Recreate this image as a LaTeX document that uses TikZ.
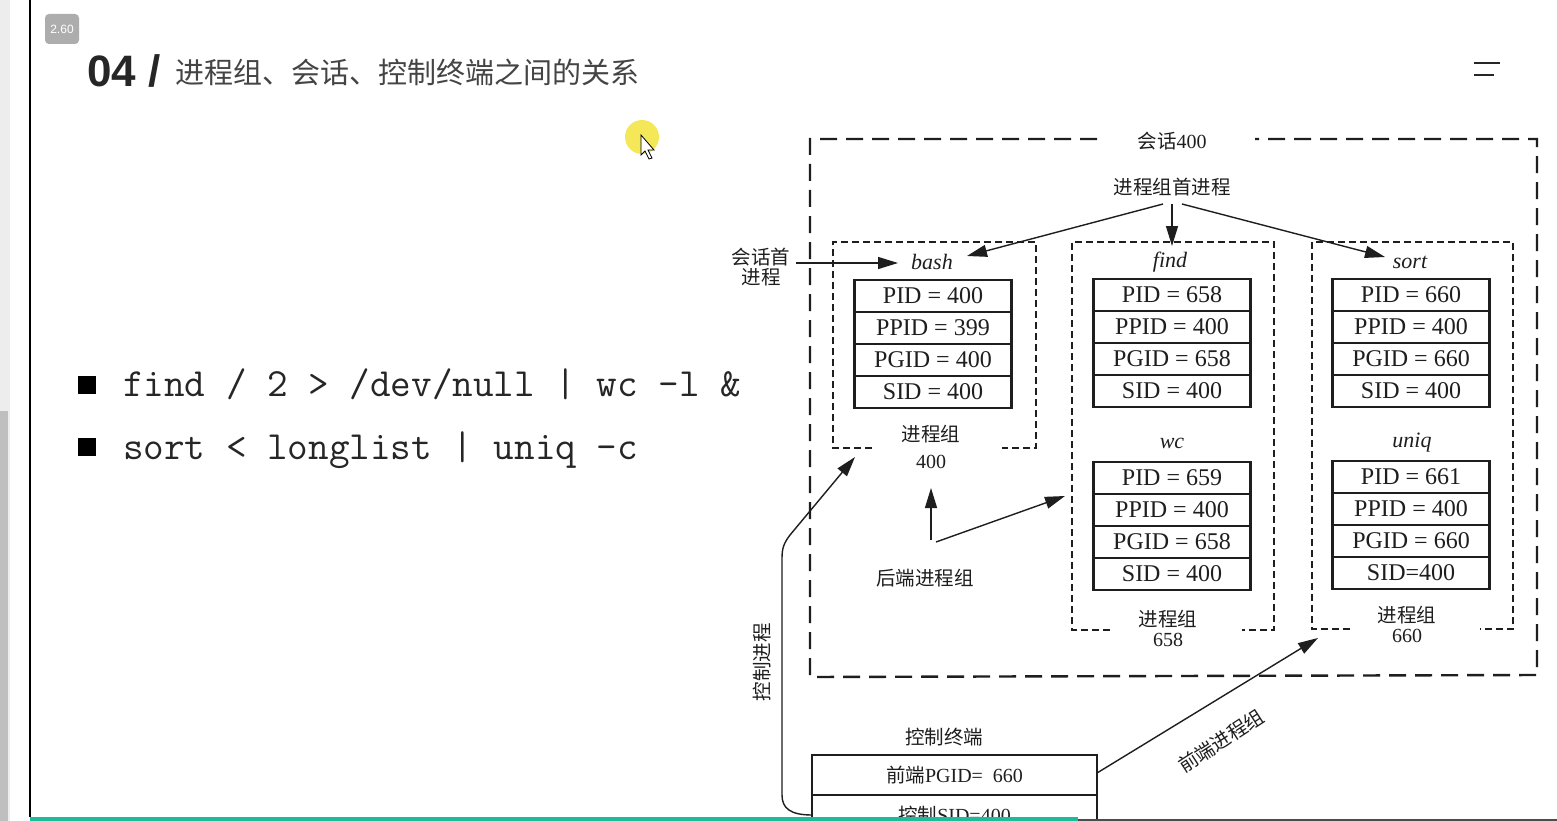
\documentclass[tikz,border=0pt]{standalone}
\usepackage{fontspec}
\setmainfont{Liberation Serif}
\newfontfamily\cjk{Noto Sans CJK SC}
\newfontfamily\hsans{Liberation Sans}
\usetikzlibrary{arrows.meta}
\newcommand\myfs[1]{\fontsize{#1}{#1}\selectfont}
\definecolor{inkc}{HTML}{1E1E1E}
\definecolor{titlec}{HTML}{444444}
\definecolor{tealbar}{HTML}{1ABC9C}
\definecolor{cursory}{HTML}{F4E646}
\newcommand\proctable[7]{%
  \node[cell] (#1a) at (#2,#3+16) {#4};
  \node[cell] (#1b) at (#2,#3+48) {#5};
  \node[cell] (#1c) at (#2,#3+80) {#6};
  \node[cell] (#1d) at (#2,#3+112) {#7};
  \draw[tbl] (#1a.north west) rectangle (#1d.south east);
}
\begin{document}
\begin{tikzpicture}[x=1pt,y=-1pt,
  every node/.style={inner sep=0pt, outer sep=0pt, text=inkc},
  lab/.style={font=\cjk\myfs{19.5}},
  num/.style={font=\myfs{20}},
  proc/.style={font=\itshape\myfs{22}},
  cell/.style={draw=inkc, line width=1.3pt, minimum width=157pt, minimum height=32pt, font=\myfs{24}},
  outerbox/.style={draw=inkc, line width=2.4pt, dash pattern=on 17pt off 9pt},
  grpbox/.style={draw=inkc, line width=2pt, dash pattern=on 7pt off 4pt},
  arr/.style={draw=inkc, line width=1.4pt, -{Triangle[length=20pt,width=12pt]}},
  tbl/.style={draw=inkc, line width=2.4pt},
  bullet/.style={fill=black, minimum size=18pt},
  cmd/.style={font=\ttfamily\myfs{40}, anchor=base west, text=black!85}
]
\clip (0,0) rectangle (1557,821);
\fill[white] (0,0) rectangle (1557,821);
% left strip
\fill[black!7] (0,0) rectangle (10,821);
\fill[black!25] (0,411) rectangle (8,821);
\draw[line width=1.5pt, black] (30,0) -- (30,817);

% badge
\node[fill=black!32, rounded corners=4pt, minimum width=34pt, minimum height=30pt,
      text=white, font=\hsans\myfs{12}] (badge) at (62,29) {2.60};

% title
\node[anchor=base west, font=\hsans\bfseries\myfs{44}, text=black!85] (tnum) at (87,87) {04 /};
\node[anchor=west, font=\cjk\myfs{29}, text=titlec] (ttxt) at (175,72) {进程组、会话、控制终端之间的关系};

% menu icon
\draw[line width=2.5pt, black!85] (1474,63) -- (1500,63);
\draw[line width=2.5pt, black!85] (1474,75) -- (1494,75);

% cursor highlight
\fill[cursory, opacity=0.9] (642,137) circle (17pt);
\draw[black, line width=0.8pt, fill=white] (641,135) -- (641,155) -- (645,151) -- (649,159) -- (652,158) -- (648,150) -- (654,150) -- cycle;

% commands
\node[bullet] (b1) at (87,385) {};
\node[cmd] (c1) at (123,396) {find / 2 > /dev/null | wc -l \&};
\node[bullet] (b2) at (87,447) {};
\node[cmd] (c2) at (123,459) {sort < longlist | uniq -c};

% session outer box
\draw[outerbox] (1097,139) -- (810,139) -- (810,677) -- (1537,675) -- (1537,139) -- (1255,139);
\node[font=\myfs{20}] (sess) at (1172,141) {{\cjk\myfs{19.5}会话}400};

% group boxes
\draw[grpbox] (872,448) -- (833,448) -- (833,242) -- (1036,242) -- (1036,448) -- (1002,448);
\draw[grpbox] (1110,630) -- (1072,630) -- (1072,242) -- (1274,242) -- (1274,630) -- (1242,630);
\draw[grpbox] (1350,629) -- (1312,629) -- (1312,242) -- (1513,242) -- (1513,629) -- (1480,629);

% process labels
\node[proc] (pbash) at (932,262) {bash};
\node[proc] (pfind) at (1170,262) {find};
\node[proc] (psort) at (1410,262) {sort};
\node[proc] (pwc) at (1172,443) {wc};
\node[proc] (puniq) at (1412,443) {uniq};

% tables
\proctable{tb}{933}{280}{PID = 400}{PPID = 399}{PGID = 400}{SID = 400}
\proctable{tf}{1172}{279}{PID = 658}{PPID = 400}{PGID = 658}{SID = 400}
\proctable{ts}{1411}{279}{PID = 660}{PPID = 400}{PGID = 660}{SID = 400}
\proctable{tw}{1172}{462}{PID = 659}{PPID = 400}{PGID = 658}{SID = 400}
\proctable{tu}{1411}{461}{PID = 661}{PPID = 400}{PGID = 660}{SID=400}

% group labels
\node[lab] (g1) at (931,434) {进程组};
\node[num] (g1n) at (931,462) {400};
\node[lab] (g2) at (1168,619) {进程组};
\node[num] (g2n) at (1168,640) {658};
\node[lab] (g3) at (1407,615) {进程组};
\node[num] (g3n) at (1407,636) {660};

% leader labels
\node[lab] (hdr) at (1172,187) {进程组首进程};
\node[lab] (sl1) at (761,257) {会话首};
\node[lab] (sl2) at (761,277) {进程};
\node[lab] (bg) at (925,578) {后端进程组};
\node[lab] (ctl) at (944,737) {控制终端};
\node[lab, rotate=90] (cp) at (762,662) {控制进程};
\node[lab, rotate=33] (fg) at (1221,741) {前端进程组};

% terminal box
\node[draw=inkc, line width=1.8pt, minimum width=285pt, minimum height=40pt, font=\myfs{20}] (term1) at (954.5,775) {{\cjk\myfs{19.5}前端}PGID=\ \ 660};
\node[draw=inkc, line width=1.8pt, minimum width=285pt, minimum height=40pt, font=\myfs{20}] (term2) at (954.5,815) {{\cjk\myfs{19.5}控制}SID=400};

% connector coordinates
\coordinate (hL) at (1163,204);
\coordinate (hM) at (1172,204);
\coordinate (hR) at (1182,204);
\coordinate (tipB) at (967,256);
\coordinate (tipF) at (1172,246);
\coordinate (tipS) at (1385,257);
\coordinate (slS) at (796,263);
\coordinate (slT) at (898,263);
\coordinate (bgA) at (931,540);
\coordinate (bgB) at (936,542);
\coordinate (tipG1) at (931,488);
\coordinate (tipWc) at (1065,496);
\coordinate (tipCtl) at (855,457);
\coordinate (fgS) at (1097,773);
\coordinate (tipFg) at (1318,638);

% connectors
\draw[arr] (hL) -- (tipB);
\draw[arr] (hM) -- (tipF);
\draw[arr] (hR) -- (tipS);
\draw[arr] (slS) -- (slT);
\draw[arr] (bgA) -- (tipG1);
\draw[arr] (bgB) -- (tipWc);
\draw[arr] (term2.west) .. controls (790,815) and (782,808) .. (782,795) -- (782,558) .. controls (782,548) and (784,543) .. (790,535) -- (tipCtl);
\draw[arr] (fgS) -- (tipFg);

% bottom bar
\fill[tealbar] (30,817) rectangle (1078,821);
\fill[black!70] (1078,819) rectangle (1557,821);
\end{tikzpicture}
\end{document}
